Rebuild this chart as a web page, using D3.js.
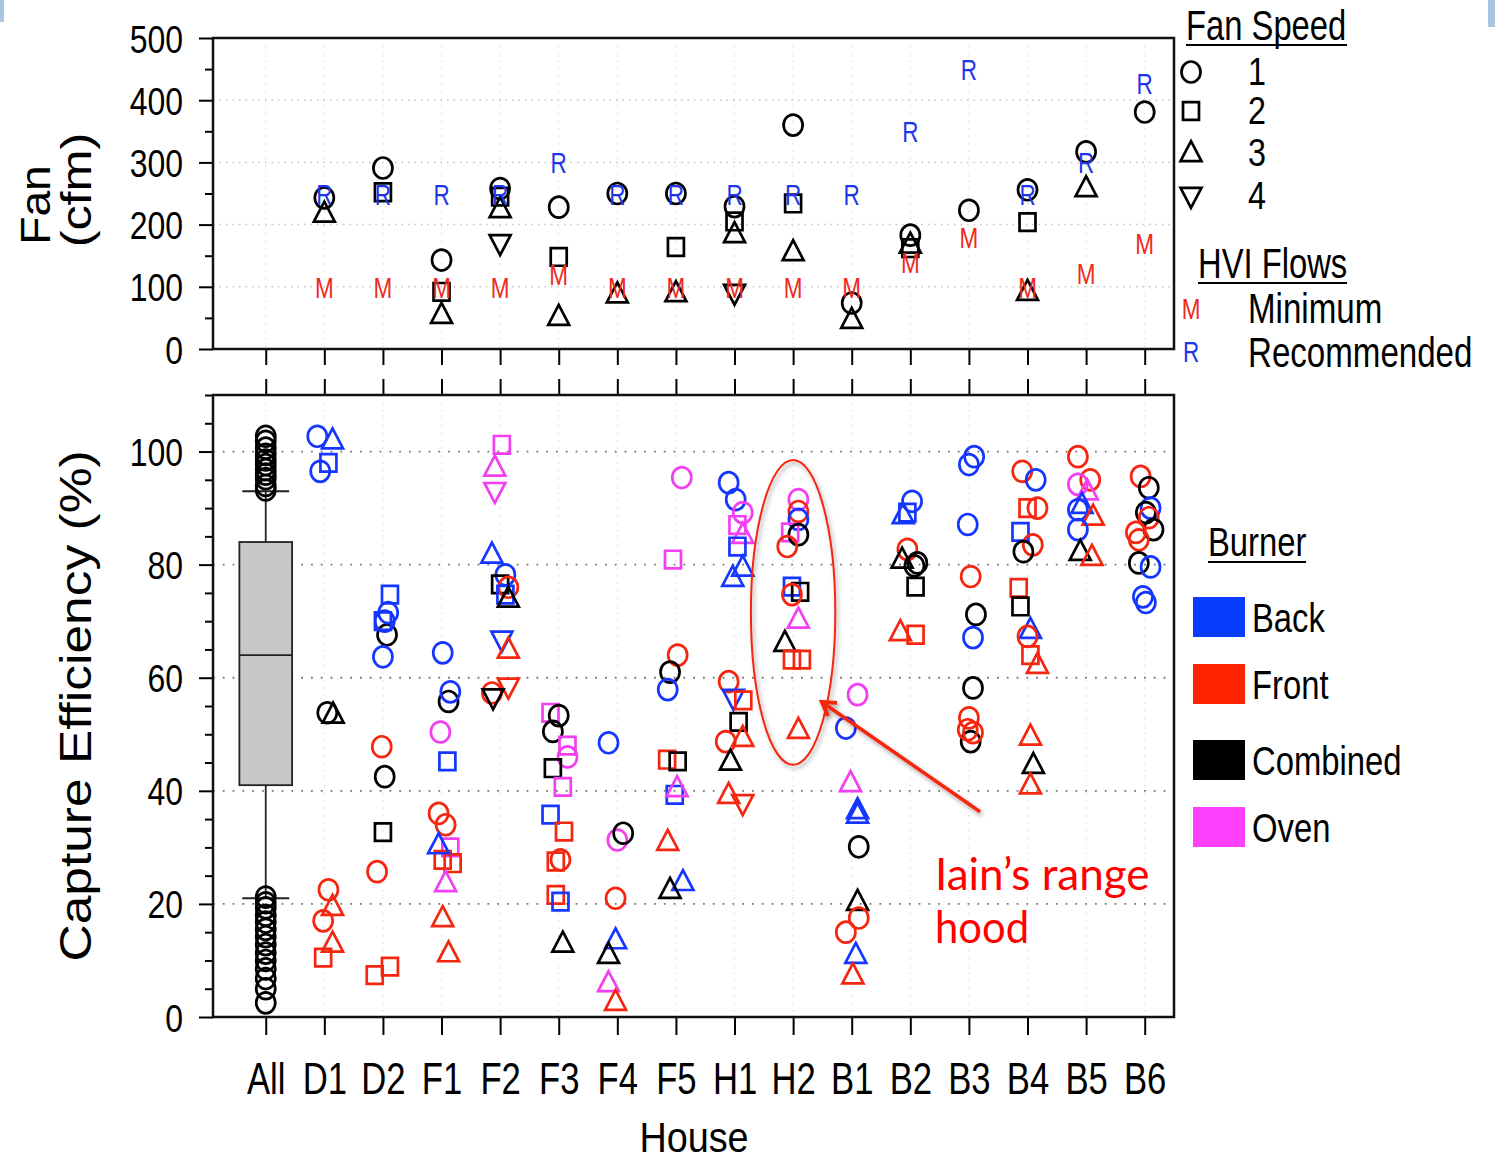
<!DOCTYPE html>
<html>
<head>
<meta charset="utf-8">
<title>Fan flow and capture efficiency by house</title>
<script src="https://cdn.jsdelivr.net/npm/d3@7/dist/d3.min.js"></script>
<style>
	body { margin: 0; background: #fff; }
	svg text { font-family: "Liberation Sans", Arial, sans-serif; }
	.mark { fill: none; stroke-width: 2.7; vector-effect: non-scaling-stroke; }
	.tick line { stroke: #000; stroke-width: 2; }
</style>
</head>
<body>
<svg id="chart" width="1495" height="1165"></svg>
<script>

	// ---- data ----
	var houses = ["All","D1","D2","F1","F2","F3","F4","F5","H1","H2","B1","B2","B3","B4","B5","B6"];

	// HVI flows (cfm), null where none
	var hviMinimum     = [null,100,100,100,100,120,100,100,100,100,100,140,180,100,122,170];
	var hviRecommended = [null,250,250,250,250,300,250,250,250,250,250,350,450,250,300,428];

	// measured fan flow: [house, fan speed, cfm]
	var fanFlow = [
		["D1",1,243],["D1",3,218],["D2",1,291],["D2",2,252],
		["F1",1,143],["F1",2,92],["F1",3,55],
		["F2",1,258],["F2",2,245],["F2",3,225],["F2",4,170],
		["F3",1,228],["F3",2,148],["F3",3,52],
		["F4",1,250],["F4",3,88],
		["F5",1,250],["F5",2,164],["F5",3,90],
		["H1",1,229],["H1",2,205],["H1",3,185],["H1",4,90],
		["H2",1,360],["H2",2,234],["H2",3,156],
		["B1",1,74],["B1",3,47],
		["B2",1,183],["B2",2,162],["B2",3,168],
		["B3",1,223],
		["B4",1,256],["B4",2,204],["B4",3,92],
		["B5",1,317],["B5",3,259],
		["B6",1,381]
	];

	// box plot of all tests
	var boxAll = { low: 21, q1: 41, median: 64, q3: 84, high: 93 };
	var outliersAll = [102.7,101.8,100.6,99.5,98.5,97.7,96.8,96,95.2,94,93.2,
		21.2,20.2,19.3,18,16.8,15.5,14.2,12.8,11.3,10,8.5,6.8,5,2.5];

	var burners = ["Back","Front","Combined","Oven"];
	var burnerCodes = ["B","F","C","O"];
	var burnerColors = ["#1436ff","#f5260f","#000000","#f23ff2"];
	var burnerSwatches = ["#0a3cff","#ff2400","#000000","#ff40ff"];

	// capture efficiency: [house, burner, fan speed, %, jitter (house units)]
	var capture = [
		["D1","B",1,102.7,-0.12],["D1","B",3,102,0.14],["D1","B",2,98,0.07],["D1","B",1,96.5,-0.07],
		["D1","C",1,53.8,0.05],["D1","C",3,53.5,0.15],["D1","F",1,22.5,0.07],["D1","F",3,19.5,0.14],
		["D1","F",1,17,-0.02],["D1","F",3,13,0.14],["D1","F",2,10.5,-0.02],

		["D2","C",1,67.6,0.07],["D2","B",2,74.7,0.12],["D2","B",1,71.5,0.09],["D2","B",1,70,0.03],["D2","B",2,70,0],
		["D2","B",1,63.7,0],["D2","F",1,47.8,-0.02],["D2","C",1,42.5,0.03],
		["D2","C",2,32.7,0],["D2","F",1,25.7,-0.10],["D2","F",2,7.4,-0.14],["D2","F",2,8.9,0.12],

		["F1","B",1,64.4,0.02],["F1","C",1,55.8,0.12],["F1","B",1,57.5,0.15],["F1","O",1,50.4,-0.02],
		["F1","B",2,45.2,0.10],["F1","F",1,36,-0.05],["F1","F",1,34,0.07],["F1","O",2,30,0.15],
		["F1","F",2,27.8,0.02],["F1","F",2,27.2,0.19],["F1","B",3,30.4,-0.05],["F1","O",3,23.7,0.07],
		["F1","F",3,17.5,0.02],["F1","F",3,11.3,0.12],

		["F2","O",2,101.2,0.03],["F2","O",3,97.2,-0.09],["F2","O",4,93,-0.09],["F2","B",3,81.8,-0.14],
		["F2","B",1,78.2,0.09],["F2","C",2,76.5,0],["F2","F",1,76,0.14],["F2","B",2,74.7,0.09],
		["F2","C",3,74,0.14],["F2","B",4,66.7,0.03],["F2","F",3,65,0.14],["F2","F",4,58.4,0.14],
		["F2","F",1,57.3,-0.14],["F2","C",4,56.5,-0.12],

		["F3","O",2,53.8,-0.14],["F3","C",1,53.3,0],["F3","C",1,50.5,-0.10],["F3","O",2,48,0.15],
		["F3","O",1,46,0.15],["F3","C",2,44,-0.10],["F3","O",2,40.7,0.07],["F3","B",2,35.8,-0.14],
		["F3","F",2,32.8,0.09],["F3","F",1,27.8,0.03],["F3","F",2,27.5,-0.05],["F3","F",2,21.6,-0.05],
		["F3","B",2,20.4,0.03],["F3","C",3,13,0.07],

		["F4","B",1,48.5,-0.15],["F4","O",1,31.3,0],["F4","C",1,32.5,0.10],["F4","F",1,21,-0.03],
		["F4","B",3,13.6,-0.03],["F4","C",3,11,-0.15],["F4","O",3,6,-0.15],["F4","F",3,2.7,-0.03],

		["F5","O",1,95.4,0.10],["F5","O",2,80.9,-0.05],["F5","F",1,64,0.03],["F5","C",1,61,-0.10],
		["F5","B",1,57.9,-0.14],["F5","F",2,45.5,-0.15],["F5","C",2,45.2,0.03],["F5","B",2,39.3,-0.02],
		["F5","O",3,40.5,0.02],["F5","F",3,31,-0.14],["F5","B",3,23.9,0.12],["F5","C",3,22.5,-0.10],

		["H1","B",1,94.5,-0.10],["H1","B",1,91.5,0.02],["H1","O",1,89.2,0.14],["H1","O",2,87,0.05],
		["H1","O",3,85.3,0.14],["H1","B",2,83.2,0.05],["H1","B",3,79.5,0.14],["H1","B",3,77.7,-0.03],
		["H1","F",1,59.3,-0.10],["H1","B",4,56.4,-0.02],["H1","F",2,56,0.15],["H1","C",2,52.2,0.07],
		["H1","F",3,49.4,0.14],["H1","F",1,48.7,-0.15],["H1","C",3,45.2,-0.07],["H1","F",3,39.3,-0.10],
		["H1","F",4,37.8,0.14],

		["H2","O",1,91.5,0.09],["H2","F",1,89.4,0.09],["H2","B",1,88,0.09],["H2","O",2,85.7,-0.05],
		["H2","C",1,85.3,0.09],["H2","F",1,83.2,-0.10],["H2","B",2,76.1,-0.02],["H2","C",2,75.2,0.12],
		["H2","F",1,74.7,-0.02],["H2","O",3,70.3,0.09],["H2","C",3,66.2,-0.14],["H2","F",2,63.2,-0.02],
		["H2","F",2,63.2,0.15],["H2","F",3,50.8,0.09],

		["B1","O",1,57,0.10],["B1","B",1,51.1,-0.10],["B1","O",3,41.4,-0.02],["B1","B",3,36.6,0.10],
		["B1","B",3,35.8,0.10],["B1","C",1,30.1,0.12],["B1","C",3,20.4,0.10],["B1","F",1,17.5,0.12],
		["B1","F",1,15,-0.10],["B1","B",3,11,0.07],["B1","F",3,7.4,0.02],

		["B2","B",1,91.2,0.03],["B2","B",2,89.2,-0.05],["B2","B",3,88.8,-0.12],["B2","F",1,82.7,-0.05],
		["B2","C",3,80.9,-0.14],["B2","C",1,80.3,0.12],["B2","C",1,79.8,0.07],["B2","C",2,76.1,0.09],
		["B2","F",3,68.1,-0.17],["B2","F",2,67.6,0.09],

		["B3","B",1,99.1,0.09],["B3","B",1,97.7,0],["B3","B",1,87.1,-0.02],["B3","F",1,77.9,0.03],
		["B3","C",1,71.2,0.12],["B3","B",1,67.1,0.07],["B3","C",1,58.2,0.07],["B3","C",1,48.7,0.03],
		["B3","F",1,52.9,0],["B3","F",1,50.8,-0.02],["B3","F",1,50.3,0.07],

		["B4","F",1,96.5,-0.09],["B4","B",1,95,0.14],["B4","F",2,90,0],["B4","F",1,90,0.17],
		["B4","B",2,85.8,-0.12],["B4","F",1,83.5,0.09],["B4","C",1,82.3,-0.07],["B4","F",2,75.9,-0.15],
		["B4","C",2,72.6,-0.12],["B4","B",3,68.5,0.05],["B4","F",1,67.3,0],["B4","F",2,64,0.05],
		["B4","F",3,62.3,0.17],["B4","F",3,49.6,0.05],["B4","C",3,44.6,0.10],["B4","F",3,41,0.05],

		["B5","F",1,99.1,-0.14],["B5","F",1,95,0.07],["B5","O",1,94.2,-0.14],["B5","O",3,93,0.02],
		["B5","B",3,90.6,-0.07],["B5","B",1,89.7,-0.14],["B5","F",3,88.5,0.12],["B5","B",1,86.2,-0.14],
		["B5","C",3,82.3,-0.10],["B5","F",3,81.4,0.10],

		["B6","F",1,95.6,-0.07],["B6","C",1,93.6,0.07],["B6","B",1,90,0.10],["B6","C",1,89.2,0.02],
		["B6","F",1,88.3,0.07],["B6","C",1,86.2,0.15],["B6","F",1,85.7,-0.15],["B6","F",1,84.4,-0.10],
		["B6","C",1,80.3,-0.10],["B6","B",1,79.6,0.10],["B6","B",1,74.3,-0.03],["B6","B",1,73.3,0.02]
	];

	var fanSpeeds = [1,2,3,4];

	// annotation, in data units of the capture panel
	var noteHouse = "H2";
	var noteRange = [44.6, 98.5];
	var noteArrow = [[12.19, 36.3],[9.49, 55.7]];

	// ---- layout ----
	var svg = d3.select("#chart");
	var left = 213, right = 1174;

	var x = d3.scaleLinear().domain([-0.9, 15.5]).range([left, right]);
	var yFan = d3.scaleLinear().domain([0, 500]).range([349, 38]);
	var yCap = d3.scaleLinear().domain([0, 110]).range([1017, 395]);
	var hx = function(h) { return x(houses.indexOf(h)); };
	var idx = d3.range(houses.length);

	var speedSymbols = {1: d3.symbolCircle, 2: d3.symbolSquare, 3: d3.symbolTriangle, 4: d3.symbolTriangle};
	var speedSizes = {1: 285, 2: 255, 3: 190, 4: 190};
	function symPath(s) { return d3.symbol(speedSymbols[s], speedSizes[s])(); }
	function symTransform(px, py, s) {
		var off = s === 3 ? 1.5 : (s === 4 ? -1.5 : 0);
		return "translate(" + px + "," + (py + off) + ") scale(1,1.1)" + (s === 4 ? " rotate(180)" : "");
	}
	function colorOf(code) { return burnerColors[burnerCodes.indexOf(code)]; }

	function txt(g, str, px, py, size, sx, opt) {
		opt = opt || {};
		return g.append("text")
			.attr("transform", "translate(" + px + "," + py + ")" + (opt.rotate ? " rotate(" + opt.rotate + ")" : "") + " scale(" + sx + ",1)")
			.attr("font-size", size)
			.attr("text-anchor", opt.anchor || "start")
			.attr("fill", opt.fill || "#000")
			.style("font-family", opt.family || null)
			.text(str);
	}

	// slide decoration
	svg.append("rect").attr("x", 0).attr("y", 0).attr("width", 4).attr("height", 22).attr("fill", "#a9c5e2");
	svg.append("rect").attr("x", 1488).attr("y", 0).attr("width", 7).attr("height", 27).attr("fill", "#a9c5e2");

	// ---- gridlines ----
	var grid = svg.append("g");
	grid.selectAll(".vt").data(idx).enter().append("line")
		.attr("x1", x).attr("x2", x).attr("y1", yFan(500)).attr("y2", yFan(0))
		.attr("stroke", "#d8d8d8").attr("stroke-dasharray", "1.5,6");
	grid.selectAll(".ht").data([100,200,300,400]).enter().append("line")
		.attr("x1", left).attr("x2", right).attr("y1", yFan).attr("y2", yFan)
		.attr("stroke", "#c4c4c4").attr("stroke-width", 1.5).attr("stroke-dasharray", "1.5,5");
	grid.selectAll(".vb").data(idx).enter().append("line")
		.attr("x1", x).attr("x2", x).attr("y1", yCap(110)).attr("y2", yCap(0))
		.attr("stroke", "#d8d8d8").attr("stroke-dasharray", "1.5,6");
	grid.selectAll(".hb").data([20,40,60,80,100]).enter().append("line")
		.attr("x1", left).attr("x2", right).attr("y1", yCap).attr("y2", yCap)
		.attr("stroke", "#777").attr("stroke-width", 1.8).attr("stroke-dasharray", "1.8,8");

	// ---- axes ----
	function yAxis(scale, major, minor) {
		var g = svg.append("g").attr("transform", "translate(" + left + ",0)");
		g.call(d3.axisLeft(scale).tickValues(major).tickSize(14));
		g.select(".domain").remove();
		g.selectAll("text").attr("x", 0).attr("dy", "0.36em")
			.attr("font-size", 39).attr("fill", "#000")
			.attr("transform", "translate(-30,0) scale(0.82,1)")
			.style("font-family", "'Liberation Sans', Arial, sans-serif");
		var m = svg.append("g").attr("transform", "translate(" + left + ",0)");
		m.call(d3.axisLeft(scale).tickValues(minor).tickSize(8).tickFormat(""));
		m.select(".domain").remove();
	}
	yAxis(yFan, d3.range(0, 501, 100), d3.range(50, 500, 100));
	yAxis(yCap, d3.range(0, 101, 20), d3.range(5, 111, 5).filter(function(v) { return v % 20 !== 0; }));

	var xt1 = svg.append("g").attr("transform", "translate(0,349)")
		.call(d3.axisBottom(x).tickValues(idx).tickSize(16).tickFormat(""));
	xt1.select(".domain").remove();
	var xt2 = svg.append("g").attr("transform", "translate(0,395)")
		.call(d3.axisTop(x).tickValues(idx).tickSize(16).tickFormat(""));
	xt2.select(".domain").remove();
	var xt3 = svg.append("g").attr("transform", "translate(0,1017)")
		.call(d3.axisBottom(x).tickValues(idx).tickSize(18).tickPadding(27)
			.tickFormat(function(i) { return houses[i]; }));
	xt3.select(".domain").remove();
	xt3.selectAll("text").attr("font-size", 45).attr("fill", "#000")
		.attr("transform", "scale(0.77,1)")
		.style("font-family", "'Liberation Sans', Arial, sans-serif");

	// frames
	svg.append("rect").attr("x", left).attr("y", yFan(500)).attr("width", right - left)
		.attr("height", yFan(0) - yFan(500)).attr("fill", "none").attr("stroke", "#111").attr("stroke-width", 2.5);
	svg.append("rect").attr("x", left).attr("y", yCap(110)).attr("width", right - left)
		.attr("height", yCap(0) - yCap(110)).attr("fill", "none").attr("stroke", "#111").attr("stroke-width", 2.5);

	// ---- fan panel ----
	var fanG = svg.append("g");
	fanG.selectAll("path").data(fanFlow).enter().append("path")
		.attr("class", "mark")
		.attr("d", function(d) { return symPath(d[1]); })
		.attr("transform", function(d) { return symTransform(hx(d[0]), yFan(d[2]), d[1]); })
		.attr("stroke", "#000");

	function hviLabels(values, letter, color) {
		fanG.selectAll(".hvi" + letter).data(values.map(function(v, i) { return [i, v]; })
				.filter(function(d) { return d[1] != null; }))
			.enter().append("text")
			.attr("transform", function(d) { return "translate(" + x(d[0]) + "," + (yFan(d[1]) + 11) + ") scale(0.75,1)"; })
			.attr("font-size", 30).attr("text-anchor", "middle").attr("fill", color)
			.text(letter);
	}
	hviLabels(hviMinimum, "M", "#ee2a1e");
	hviLabels(hviRecommended, "R", "#1e36e8");

	// ---- capture panel ----
	var capG = svg.append("g");
	var bw = 0.45, cw = 0.4;
	capG.append("line").attr("x1", x(0)).attr("x2", x(0)).attr("y1", yCap(boxAll.q3)).attr("y2", yCap(boxAll.high))
		.attr("stroke", "#222").attr("stroke-width", 1.8);
	capG.append("line").attr("x1", x(0)).attr("x2", x(0)).attr("y1", yCap(boxAll.q1)).attr("y2", yCap(boxAll.low))
		.attr("stroke", "#222").attr("stroke-width", 1.8);
	[boxAll.high, boxAll.low].forEach(function(v) {
		capG.append("line").attr("x1", x(-cw)).attr("x2", x(cw)).attr("y1", yCap(v)).attr("y2", yCap(v))
			.attr("stroke", "#222").attr("stroke-width", 2);
	});
	capG.append("rect").attr("x", x(-bw)).attr("width", x(bw) - x(-bw))
		.attr("y", yCap(boxAll.q3)).attr("height", yCap(boxAll.q1) - yCap(boxAll.q3))
		.attr("fill", "#c8c8c8").attr("stroke", "#222").attr("stroke-width", 1.8);
	capG.append("line").attr("x1", x(-bw)).attr("x2", x(bw)).attr("y1", yCap(boxAll.median)).attr("y2", yCap(boxAll.median))
		.attr("stroke", "#222").attr("stroke-width", 1.8);
	capG.selectAll(".out").data(outliersAll).enter().append("path")
		.attr("class", "mark").attr("d", symPath(1)).attr("stroke", "#000")
		.attr("transform", function(v) { return symTransform(x(0), yCap(v), 1); });

	capG.selectAll(".pt").data(capture).enter().append("path")
		.attr("class", "mark")
		.attr("d", function(d) { return symPath(d[2]); })
		.attr("transform", function(d) { return symTransform(x(houses.indexOf(d[0]) + d[4]), yCap(d[3]), d[2]); })
		.attr("stroke", function(d) { return colorOf(d[1]); });

	// ---- axis titles ----
	txt(svg, "Fan", 50, 205, 42, 1.1, {rotate: -90, anchor: "middle"});
	txt(svg, "(cfm)", 91, 190, 42, 1.2, {rotate: -90, anchor: "middle"});
	txt(svg, "Capture Efficiency (%)", 91, 706, 44, 1.17, {rotate: -90, anchor: "middle"});
	txt(svg, "House", 694, 1152, 42, 0.9, {anchor: "middle"});

	// ---- legends ----
	var lg = svg.append("g");
	txt(lg, "Fan Speed", 1186, 40, 42, 0.78);
	lg.append("line").attr("x1", 1186).attr("x2", 1347).attr("y1", 45).attr("y2", 45).attr("stroke", "#000").attr("stroke-width", 2);
	var speedRows = [72, 111, 153, 196];
	fanSpeeds.forEach(function(s, i) {
		lg.append("path").attr("class", "mark").attr("stroke", "#000")
			.attr("d", symPath(s)).attr("transform", symTransform(1191, speedRows[i], s));
		txt(lg, String(s), 1248, speedRows[i] + 13, 38, 0.85);
	});
	txt(lg, "HVI Flows", 1198, 278, 42, 0.78);
	lg.append("line").attr("x1", 1198).attr("x2", 1347).attr("y1", 283).attr("y2", 283).attr("stroke", "#000").attr("stroke-width", 2);
	txt(lg, "M", 1191, 319, 30, 0.75, {anchor: "middle", fill: "#ee2a1e"});
	txt(lg, "Minimum", 1248, 323, 43, 0.77);
	txt(lg, "R", 1191, 362, 30, 0.75, {anchor: "middle", fill: "#1e36e8"});
	txt(lg, "Recommended", 1248, 367, 43, 0.77);

	txt(lg, "Burner", 1208, 556, 41, 0.8);
	lg.append("line").attr("x1", 1208).attr("x2", 1306).attr("y1", 562).attr("y2", 562).attr("stroke", "#000").attr("stroke-width", 2);
	var burnerRows = [597, 664, 740, 807];
	burners.forEach(function(b, i) {
		lg.append("rect").attr("x", 1193).attr("y", burnerRows[i]).attr("width", 52).attr("height", 40)
			.attr("fill", burnerSwatches[i]);
		txt(lg, b, 1252, burnerRows[i] + 35, 41, 0.8);
	});

	// ---- annotation ----
	var defs = svg.append("defs");
	defs.append("filter").attr("id", "shadow").attr("x", "-20%").attr("y", "-20%").attr("width", "140%").attr("height", "140%")
		.append("feDropShadow").attr("dx", 2).attr("dy", 3).attr("stdDeviation", 2).attr("flood-opacity", 0.35);
	defs.append("marker").attr("id", "head").attr("markerUnits", "userSpaceOnUse")
		.attr("viewBox", "-16 -10 20 20").attr("refX", 0).attr("refY", 0)
		.attr("markerWidth", 20).attr("markerHeight", 20).attr("orient", "auto")
		.append("path").attr("d", "M-13,-8 L0,0 L-13,8").attr("fill", "none")
		.attr("stroke", "#f5260f").attr("stroke-width", 4);

	var nx = hx(noteHouse);
	svg.append("ellipse")
		.attr("cx", nx).attr("cy", (yCap(noteRange[0]) + yCap(noteRange[1])) / 2)
		.attr("rx", x(0.72) - x(0)).attr("ry", (yCap(noteRange[0]) - yCap(noteRange[1])) / 2)
		.attr("fill", "none").attr("stroke", "#f5260f").attr("stroke-width", 2)
		.attr("filter", "url(#shadow)");
	svg.append("line")
		.attr("x1", x(noteArrow[0][0])).attr("y1", yCap(noteArrow[0][1]))
		.attr("x2", x(noteArrow[1][0])).attr("y2", yCap(noteArrow[1][1]))
		.attr("stroke", "#f5260f").attr("stroke-width", 3.5)
		.attr("marker-end", "url(#head)").attr("filter", "url(#shadow)");
	txt(svg, "Iain\u2019s range", 935, 890, 44, 1.0, {fill: "#ff0000", family: "Lato, 'DejaVu Sans', sans-serif"});
	txt(svg, "hood", 935, 943, 44, 0.95, {fill: "#ff0000", family: "Lato, 'DejaVu Sans', sans-serif"});

</script>
</body>
</html>
